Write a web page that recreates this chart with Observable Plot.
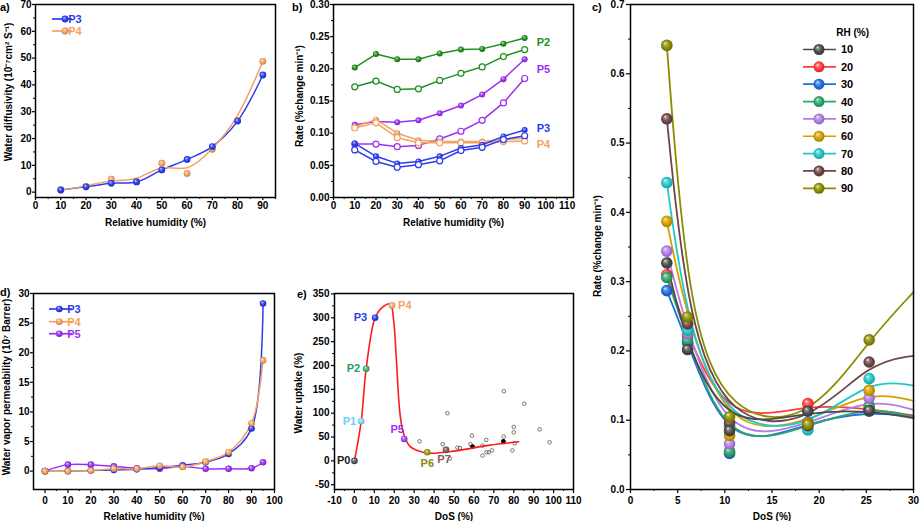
<!DOCTYPE html>
<html><head><meta charset="utf-8">
<script src="https://cdn.jsdelivr.net/npm/d3@7"></script>
<script src="https://cdn.jsdelivr.net/npm/@observablehq/plot@0.6"></script>
<style>
body{margin:0;background:#fff;}
#root{position:relative;width:919px;height:521px;overflow:hidden;font-family:"Liberation Sans",Arial,sans-serif;background:#fff;}
.tag{position:absolute;font-weight:bold;font-size:11px;line-height:12px;color:#000;}
</style></head><body>
<svg width="0" height="0" style="position:absolute;left:0;top:0"><defs id="grads"></defs></svg>
<div id="root"></div>
<script>
// ================= DATA =================
// a) water diffusivity
const aRH = [10,20,30,40,50,60,70,80,90];
const aP3 = [0.8,2.0,3.3,3.8,8.3,12.2,17.0,26.5,43.7];
const aP4 = [0.8,2.1,4.8,3.9,10.8,7.0,16.0,26.8,48.8];
const aXTicks = [0,10,20,30,40,50,60,70,80,90];
const aYTicks = [0,10,20,30,40,50,60,70];

// b) rate vs RH (filled / open)
const bRH = [10,20,30,40,50,60,70,80,90];
const bP2Fill = [0.202,0.223,0.215,0.215,0.224,0.230,0.231,0.239,0.248];
const bP2Open = [0.172,0.181,0.168,0.169,0.182,0.193,0.203,0.219,0.230];
const bP5Fill = [0.113,0.118,0.117,0.120,0.131,0.143,0.160,0.184,0.215];
const bP5Open = [0.083,0.083,0.079,0.081,0.091,0.103,0.120,0.147,0.185];
const bP4Fill = [0.110,0.121,0.100,0.089,0.087,0.087,0.087,0.090,0.092];
const bP4Open = [0.108,0.116,0.093,0.085,0.085,0.085,0.085,0.087,0.088];
const bP3Fill = [0.084,0.064,0.053,0.056,0.064,0.077,0.082,0.095,0.105];
const bP3Open = [0.074,0.056,0.047,0.051,0.057,0.073,0.078,0.090,0.096];
const bXTicks = [0,10,20,30,40,50,60,70,80,90,100,110];
const bYTicks = [0,0.05,0.10,0.15,0.20,0.25,0.30];

// c) rate vs DoS at each RH
const cDoS = [3.85,6.05,10.5,18.8,25.3];
const cRH = [10,20,30,40,50,60,70,80,90];
const cRate10 = [0.327,0.202,0.085,0.113,0.114];
const cRate20 = [0.310,0.222,0.092,0.124,0.116];
const cRate30 = [0.287,0.212,0.052,0.097,0.113];
const cRate40 = [0.306,0.216,0.055,0.092,0.120];
const cRate50 = [0.344,0.225,0.066,0.094,0.132];
const cRate60 = [0.387,0.240,0.078,0.096,0.143];
const cRate70 = [0.443,0.230,0.090,0.086,0.160];
const cRate80 = [0.535,0.239,0.096,0.092,0.184];
const cRate90 = [0.641,0.249,0.105,0.094,0.216];
const cFitEndDoS = 30;
const cFitEnd = [0.103,0.107,0.105,0.105,0.115,0.128,0.150,0.193,0.285];
const cXTicks = [0,5,10,15,20,25,30];
const cYTicks = [0,0.1,0.2,0.3,0.4,0.5,0.6,0.7];

// d) water vapor permeability
const dRH = [0,10,20,30,40,50,60,70,80,90,95];
const dP3 = [0,0,0.1,0.2,0.3,0.6,1.0,1.5,2.9,7.2,28.3];
const dP4 = [0,0,0.1,0.4,0.4,0.9,0.7,1.6,3.2,8.1,18.7];
const dP5 = [0,1.1,1.1,0.8,0.5,0.4,0.8,0.4,0.4,0.5,1.5];
const dXTicks = [0,10,20,30,40,50,60,70,80,90,100];
const dYTicks = [0,5,10,15,20,25,30];

// e) water uptake vs DoS
const eNames = ["P0","P1","P2","P3","P4","P5","P6","P7"];
const eDoS = [0,3.4,5.9,10.4,18.9,25.0,36.6,46.0];
const eUptake = [0,83,193,300,326,46,18,23];
const eFitDoS = [0,3.4,5.9,10.4,14,18,19.7,21,22.7,23.9,25.6,28,31.5,38,51,68,82.5];
const eFitUptake = [0,83,193,300,322,329,294,217,106,71,46,30,22,16,21,33,40];
const eLitDoS = [32.7,46.7,44.3,47.9,51.7,53,59,58.3,64.3,64.3,66.2,66.3,67.5,69,75,75,80,80,80.5,79.3,85.3,93,98];
const eLitUptake = [41,100,35,5,28,27,53,35,32,11,44,18,18,22,146,51,71,60,37,22,120,66,39];
const eLitFillDoS = [59.3,74.8];
const eLitFillUptake = [30,41];
const eXTicks = [-10,0,10,20,30,40,50,60,70,80,90,100,110];
const eYTicks = [-50,0,50,100,150,200,250,300,350];

// ================= STYLE =================
const BLUE = "#2a3cf0", ORANGE = "#f4a262", PURPLE = "#9b30f5", GREEN = "#1f8f1f";
const cColors = ["#4a4a4a","#ff3b3b","#1f6fe0","#2ea86a","#b37de8","#d4a000","#22c8c8","#6e4646","#8c8c00"];
const eColors = ["#555555","#86d6f6","#3bb070","#2a3cf0","#f8ad78","#a040ff","#9a9a10","#8b5555"];
const eLabelColors = ["#222222","#6ccff6","#2e9e5b","#2a3cf0","#f4a060","#9b30ff","#8a8a10","#8b5a5a"];
const eLabelOffsets = [[-4,0,"end"],[-5,0,"end"],[-6,0,"end"],[-8,0,"end"],[6,0,"start"],[-7,-9,"middle"],[0,11,"middle"],[-2,10,"middle"]];
const FONT = '"Liberation Sans", Arial, sans-serif';

const grads = d3.select("#grads");
const gradCache = {};
let gi = 0;
function sphere(color){
  if (gradCache[color]) return gradCache[color];
  const id = "sph" + (gi++);
  const g = grads.append("radialGradient").attr("id", id)
    .attr("cx","50%").attr("cy","50%").attr("r","55%").attr("fx","35%").attr("fy","30%");
  g.append("stop").attr("offset","0%").attr("stop-color","#ffffff");
  g.append("stop").attr("offset","22%").attr("stop-color", d3.interpolateRgb(color,"#fff")(0.35));
  g.append("stop").attr("offset","60%").attr("stop-color", color);
  g.append("stop").attr("offset","100%").attr("stop-color", d3.color(color).darker(0.9).formatHex());
  return gradCache[color] = `url(#${id})`;
}

const root = document.getElementById("root");
function place(svg, left, top){
  svg.style.position = "absolute"; svg.style.left = left + "px"; svg.style.top = top + "px";
  root.appendChild(svg); return svg;
}
function tag(txt, left, top){
  const d = document.createElement("div"); d.className = "tag"; d.textContent = txt;
  d.style.left = left + "px"; d.style.top = top + "px"; root.appendChild(d);
}
function base(w,h,m){
  return {width:w,height:h,marginLeft:m[0],marginRight:m[1],marginTop:m[2],marginBottom:m[3],
    style:{fontFamily:FONT,fontSize:"10px",fontWeight:"bold",color:"#000",background:"transparent",overflow:"visible"}};
}
function axes(o){
  return [
    Plot.axisX({ticks:o.xt, tickSize:o.xts, tickPadding:o.xpad, tickFormat:o.xf||(d=>String(d)), label:null, fontSize:10, fontWeight:"bold", strokeWidth:1.2}),
    Plot.axisX({ticks:o.xm, tickSize:2, tickFormat:()=>"", label:null, strokeWidth:1}),
    Plot.axisY({ticks:o.yt, tickSize:o.yts, tickPadding:o.ypad, tickFormat:o.yf||(d=>String(d)), label:null, fontSize:10, fontWeight:"bold", strokeWidth:1.2}),
    Plot.axisY({ticks:o.ym, tickSize:2, tickFormat:()=>"", label:null, strokeWidth:1}),
    Plot.text([o.xTitle], {frameAnchor:"bottom", dy:o.xdy, text:d=>d, fontSize:10, fontWeight:"bold", lineAnchor:"middle", fill:"#000"}),
    Plot.frame({stroke:"#000", strokeWidth:1.5})
  ];
}
function ytitle(svg, txt, x, y){
  d3.select(svg).append("text").attr("transform",`translate(${x},${y}) rotate(-90)`)
    .attr("text-anchor","middle").attr("dy","0.36em").attr("font-size",10).attr("font-weight","bold")
    .attr("font-family",FONT).attr("fill","#000").text(txt);
}
function legend(svg, items, x0, x1, xd, xt, ys, r, fs){
  const s = d3.select(svg);
  items.forEach((it,i)=>{
    const g = s.append("g");
    g.append("line").attr("x1",x0).attr("x2",x1).attr("y1",ys[i]).attr("y2",ys[i]).attr("stroke",it.color).attr("stroke-width",1.7);
    g.append("circle").attr("cx",xd).attr("cy",ys[i]).attr("r",r).attr("fill",sphere(it.color));
    g.append("text").attr("x",xt).attr("y",ys[i]).attr("dy","0.36em").attr("fill",it.text||it.color)
      .attr("font-size",fs).attr("font-weight","bold").attr("font-family",FONT).text(it.label);
  });
}
const rows = (xs, ys) => xs.map((x,i)=>({x, y:ys[i]}));
const minor = (a,b,s) => d3.range(a, b + s/2, s);

// ================= PANEL a =================
{
  const r3 = rows(aRH,aP3), r4 = rows(aRH,aP4);
  const svg = Plot.plot({...base(290,260,[35,15,4,63]),
    x:{domain:[0,95]}, y:{domain:[-2,70]},
    marks:[
      ...axes({xt:aXTicks, xm:minor(5,95,10), yt:aYTicks, ym:minor(5,65,10), xts:3, xpad:1, yts:3, ypad:1,
        xTitle:"Relative humidity (%)", xdy:25}),
      Plot.line(r3,{x:"x",y:"y",stroke:BLUE,strokeWidth:1.5,curve:"catmull-rom"}),
      Plot.line(r4,{x:"x",y:"y",stroke:ORANGE,strokeWidth:1.5,curve:"basis"}),
      Plot.dot(r4,{x:"x",y:"y",r:3.4,fill:sphere(ORANGE)}),
      Plot.dot(r3,{x:"x",y:"y",r:3.4,fill:sphere(BLUE)})
    ]});
  place(svg,0,0);
  ytitle(svg,"Water diffusivity (10⁻⁷cm² S⁻¹)",8,92);
  legend(svg,[{label:"P3",color:BLUE},{label:"P4",color:ORANGE}],52,72,65,75,[19,31],3.4,11);
  tag("a)",0,1);
}

// ================= PANEL b =================
{
  const series = [
    {d:bP2Fill,c:GREEN,f:true},{d:bP2Open,c:GREEN,f:false},
    {d:bP5Fill,c:PURPLE,f:true},{d:bP5Open,c:PURPLE,f:false},
    {d:bP4Fill,c:ORANGE,f:true},{d:bP4Open,c:ORANGE,f:false},
    {d:bP3Fill,c:BLUE,f:true},{d:bP3Open,c:BLUE,f:false}
  ];
  const marks = [];
  series.forEach(s=>{
    const r = rows(bRH,s.d);
    marks.push(Plot.line(r,{x:"x",y:"y",stroke:s.c,strokeWidth:1.5}));
    marks.push(s.f ? Plot.dot(r,{x:"x",y:"y",r:3,fill:sphere(s.c)})
                   : Plot.dot(r,{x:"x",y:"y",r:3,fill:"#fff",stroke:s.c,strokeWidth:1.2}));
  });
  const bLabels = [{t:"P2",y:0.241,c:GREEN},{t:"P5",y:0.199,c:PURPLE},{t:"P3",y:0.107,c:BLUE},{t:"P4",y:0.082,c:ORANGE}];
  const svg = Plot.plot({...base(300,260,[43,17,4,63]),
    x:{domain:[0,113]}, y:{domain:[0,0.30]},
    marks:[
      ...axes({xt:bXTicks, xm:minor(5,105,10), yt:bYTicks, ym:minor(0.025,0.275,0.05), xts:3, xpad:1, yts:3, ypad:1,
        yf:d3.format(".2f"), xTitle:"Relative humidity (%)", xdy:25}),
      ...marks,
      Plot.text(bLabels,{x:()=>90,y:"y",text:"t",fill:"c",dx:12,textAnchor:"start",fontSize:11,fontWeight:"bold"})
    ]});
  place(svg,290,0);
  ytitle(svg,"Rate (%change min⁻¹)",9.5,96);
  tag("b)",292,1);
}

// ================= PANEL c =================
{
  const cRates = [cRate10,cRate20,cRate30,cRate40,cRate50,cRate60,cRate70,cRate80,cRate90];
  const order = [1,2,3,4,5,6,7,8,0];
  const lineMarks = [], dotMarks = [];
  order.forEach(i=>{
    const pts = rows(cDoS,cRates[i]);
    const fit = pts.concat([{x:cFitEndDoS,y:cFitEnd[i]}]);
    lineMarks.push(Plot.line(fit,{x:"x",y:"y",stroke:cColors[i],strokeWidth:1.8,curve:"basis"}));
    dotMarks.push(Plot.dot(pts,{x:"x",y:"y",r:5.8,fill:sphere(cColors[i])}));
  });
  const svg = Plot.plot({...base(329,521,[40,6,4,32]),
    x:{domain:[0,30]}, y:{domain:[0,0.7]},
    marks:[
      ...lineMarks, ...dotMarks,
      ...axes({xt:cXTicks, xm:minor(2.5,27.5,5), yt:cYTicks, ym:minor(0.05,0.65,0.1), xts:4, xpad:3, yts:4, ypad:2,
        yf:d3.format(".1f"), xTitle:"DoS (%)", xdy:27})
    ]});
  place(svg,590,0);
  ytitle(svg,"Rate (%change min⁻¹)",7,246);
  d3.select(svg).append("text").attr("x",262.7).attr("y",32.3).attr("dy","0.36em").attr("text-anchor","middle")
    .attr("font-size",10).attr("font-weight","bold").attr("font-family",FONT).text("RH (%)");
  legend(svg, cRH.map((rh,i)=>({label:String(rh),color:cColors[i],text:"#000"})), 213,246,229,257,
    cRH.map((_,i)=>49.5+i*17.35), 5.5, 11);
  tag("c)",592,1);
}

// ================= PANEL d =================
{
  const r3 = rows(dRH,dP3), r4 = rows(dRH,dP4), r5 = rows(dRH,dP5);
  const svg = Plot.plot({...base(290,251,[33,16,23,32]),
    x:{domain:[-5,100]}, y:{domain:[-3.1,30]},
    marks:[
      ...axes({xt:dXTicks, xm:minor(5,95,10), yt:dYTicks, ym:minor(2.5,27.5,5), xts:4, xpad:3, yts:3, ypad:1,
        xTitle:"Relative humidity (%)", xdy:27}),
      Plot.line(r5,{x:"x",y:"y",stroke:PURPLE,strokeWidth:1.5,curve:"catmull-rom"}),
      Plot.line(r3,{x:"x",y:"y",stroke:BLUE,strokeWidth:1.5,curve:"catmull-rom"}),
      Plot.line(r4,{x:"x",y:"y",stroke:ORANGE,strokeWidth:1.5,curve:"catmull-rom"}),
      Plot.dot(r5,{x:"x",y:"y",r:3.3,fill:sphere(PURPLE)}),
      Plot.dot(r3,{x:"x",y:"y",r:3.3,fill:sphere(BLUE)}),
      Plot.dot(r4,{x:"x",y:"y",r:3.3,fill:sphere(ORANGE)})
    ]});
  place(svg,0,270);
  ytitle(svg,"Water vapor permeability (10⁷ Barrer)",6,117);
  legend(svg,[{label:"P3",color:BLUE},{label:"P4",color:ORANGE},{label:"P5",color:PURPLE}],49,72,59.3,74,[39,51.7,63.7],3.3,11);
  tag("d)",0,286);
}

// ================= PANEL e =================
{
  const named = eNames.map((n,i)=>({n, x:eDoS[i], y:eUptake[i], c:eColors[i], lc:eLabelColors[i],
    dx:eLabelOffsets[i][0], dy:eLabelOffsets[i][1], a:eLabelOffsets[i][2]}));
  const fit = rows(eFitDoS,eFitUptake);
  const lit = rows(eLitDoS,eLitUptake);
  const litF = rows(eLitFillDoS,eLitFillUptake);
  const labelMarks = named.map(d=>Plot.text([d],{x:"x",y:"y",text:"n",fill:d.lc,dx:d.dx,dy:d.dy,textAnchor:d.a,fontSize:11,fontWeight:"bold"}));
  const dotMarks = named.map(d=>Plot.dot([d],{x:"x",y:"y",r:3.3,fill:sphere(d.c)}));
  const svg = Plot.plot({...base(300,251,[44,17,23,32]),
    x:{domain:[-10,110]}, y:{domain:[-60,351]},
    marks:[
      ...axes({xt:eXTicks, xm:minor(-5,105,10), yt:eYTicks, ym:minor(-25,325,50), xts:4, xpad:3, yts:3, ypad:2,
        xTitle:"DoS (%)", xdy:27}),
      Plot.dot(lit,{x:"x",y:"y",r:1.8,stroke:"#555",strokeWidth:0.8,fill:"none"}),
      Plot.dot(litF,{x:"x",y:"y",r:2.4,fill:"#000"}),
      Plot.line(fit,{x:"x",y:"y",stroke:"#ff1a1a",strokeWidth:1.6,curve:"catmull-rom"}),
      ...dotMarks, ...labelMarks
    ]});
  place(svg,290,270);
  ytitle(svg,"Water uptake (%)",8.5,123);
  tag("e)",297,288);
}
</script>
</body></html>
